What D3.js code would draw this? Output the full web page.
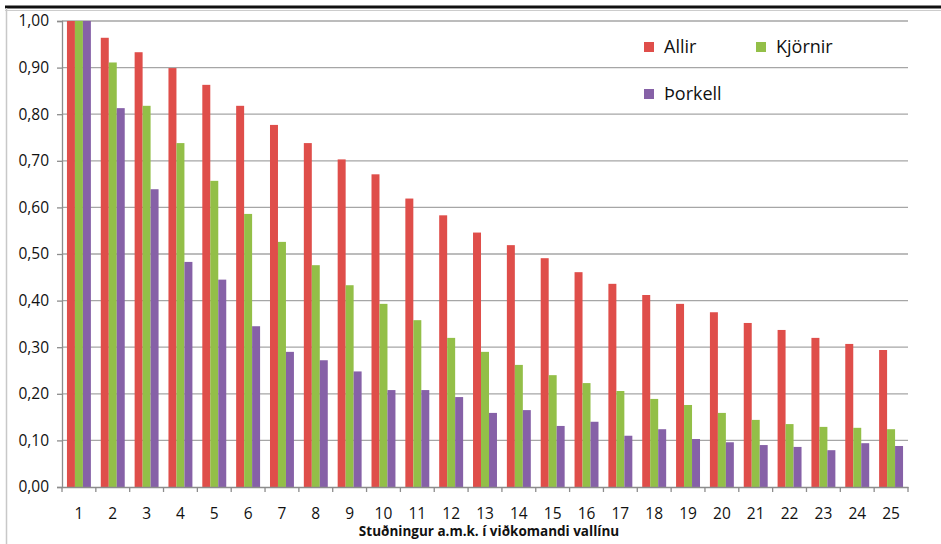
<!DOCTYPE html>
<html><head><meta charset="utf-8">
<script src="https://cdn.jsdelivr.net/npm/d3@7"></script>
<style>html,body{margin:0;padding:0;background:#fff;}svg{display:block;}</style>
</head><body>
<svg id="c" width="941" height="544"></svg>
<script>
const categories = d3.range(1, 26).map(String);
const seriesNames = ["Allir", "Kjörnir", "Þorkell"];
const allir = [1.000,0.964,0.933,0.899,0.863,0.818,0.777,0.738,0.703,0.671,0.619,0.583,0.546,0.519,0.491,0.461,0.436,0.412,0.393,0.375,0.352,0.337,0.320,0.307,0.294];
const kjornir = [1.000,0.911,0.818,0.738,0.657,0.586,0.526,0.476,0.433,0.393,0.358,0.320,0.290,0.262,0.240,0.223,0.206,0.189,0.176,0.159,0.144,0.135,0.129,0.127,0.124];
const thorkell = [1.000,0.813,0.639,0.483,0.445,0.345,0.290,0.272,0.248,0.208,0.208,0.193,0.159,0.165,0.131,0.140,0.110,0.124,0.103,0.096,0.090,0.086,0.079,0.094,0.088];
const yTicks = [0,0.1,0.2,0.3,0.4,0.5,0.6,0.7,0.8,0.9,1.0];
const colors = ["#DF4E4A", "#93BF48", "#8661A7"];
const xTitle = "Stuðningur a.m.k. í viðkomandi vallínu";

const values = [allir, kjornir, thorkell];
const svg = d3.select("#c");
const font = "'Open Sans', Lato, sans-serif";
const L = 62, R = 908, T = 21, B = 487;

// frame
svg.append("line").attr("x1",5).attr("x2",941).attr("y1",7).attr("y2",7).attr("stroke","#111").attr("stroke-width",3);
svg.append("line").attr("x1",5).attr("x2",941).attr("y1",10.5).attr("y2",10.5).attr("stroke","#ccc").attr("stroke-width",1);
svg.append("line").attr("x1",6.5).attr("x2",6.5).attr("y1",8).attr("y2",544).attr("stroke","#c8c8c8").attr("stroke-width",1.5);

const x0 = d3.scaleBand().domain(categories).range([L, R]).padding(0);
const x1 = d3.scaleBand().domain(seriesNames).range([0, x0.bandwidth()]).paddingInner(0).paddingOuter(0.62);
const y = d3.scaleLinear().domain([0, 1]).range([B, T]);
const fmt = d => d3.format(".2f")(d).replace(".", ",");

// gridlines
svg.append("g").selectAll("line").data(yTicks.filter(d => d > 0)).join("line")
  .attr("x1", L).attr("x2", R).attr("y1", d => y(d)).attr("y2", d => y(d))
  .attr("stroke", "#a6a6a6").attr("stroke-width", 1.3);

// bars
const gS = svg.append("g");
seriesNames.forEach((s, si) => {
  gS.append("g").selectAll("rect").data(categories).join("rect")
    .attr("x", c => x0(c) + x1(s))
    .attr("width", x1.bandwidth())
    .attr("y", (c, i) => y(values[si][i]))
    .attr("height", (c, i) => B - y(values[si][i]))
    .attr("fill", colors[si]);
});

// y axis
const yAxis = d3.axisLeft(y).tickValues(yTicks).tickFormat(fmt).tickSize(5).tickPadding(8);
const gy = svg.append("g").attr("transform", `translate(${L},0)`).call(yAxis);
gy.select(".domain").attr("stroke", "#8c8c8c").attr("stroke-width", 1.3);
gy.selectAll(".tick line").attr("stroke", "#8c8c8c").attr("stroke-width", 1.3);
gy.selectAll("text").attr("font-family", font).attr("font-size", 15.5).attr("fill", "#111");

// x axis
const xAxis = d3.axisBottom(x0).tickSize(0).tickPadding(21);
const gx = svg.append("g").attr("transform", `translate(0,${B})`).call(xAxis);
gx.select(".domain").attr("stroke", "#8c8c8c").attr("stroke-width", 1.3);
gx.selectAll("text").attr("font-family", font).attr("font-size", 15.5).attr("fill", "#111");
// boundary ticks
const bounds = categories.map(c => x0(c)).concat([R]);
gx.append("g").selectAll("line").data(bounds).join("line")
  .attr("x1", d => d).attr("x2", d => d).attr("y1", 0).attr("y2", 5)
  .attr("stroke", "#8c8c8c").attr("stroke-width", 1.3);

svg.append("text").attr("x", 489).attr("y", 536).attr("text-anchor", "middle")
  .attr("font-family", font).attr("font-weight", "bold").attr("font-size", 13.5).attr("fill", "#111").text(xTitle);

// legend
const legendPos = [[644, 42], [756, 42], [644, 89]];
seriesNames.forEach((s, i) => {
  const g = svg.append("g").attr("transform", `translate(${legendPos[i][0]},${legendPos[i][1]})`);
  g.append("rect").attr("width", 10).attr("height", 10).attr("fill", colors[i]);
  g.append("text").attr("x", 20).attr("y", 11).attr("font-family", font).attr("font-size", 18).attr("fill", "#111").text(s);
});
</script>
</body></html>
